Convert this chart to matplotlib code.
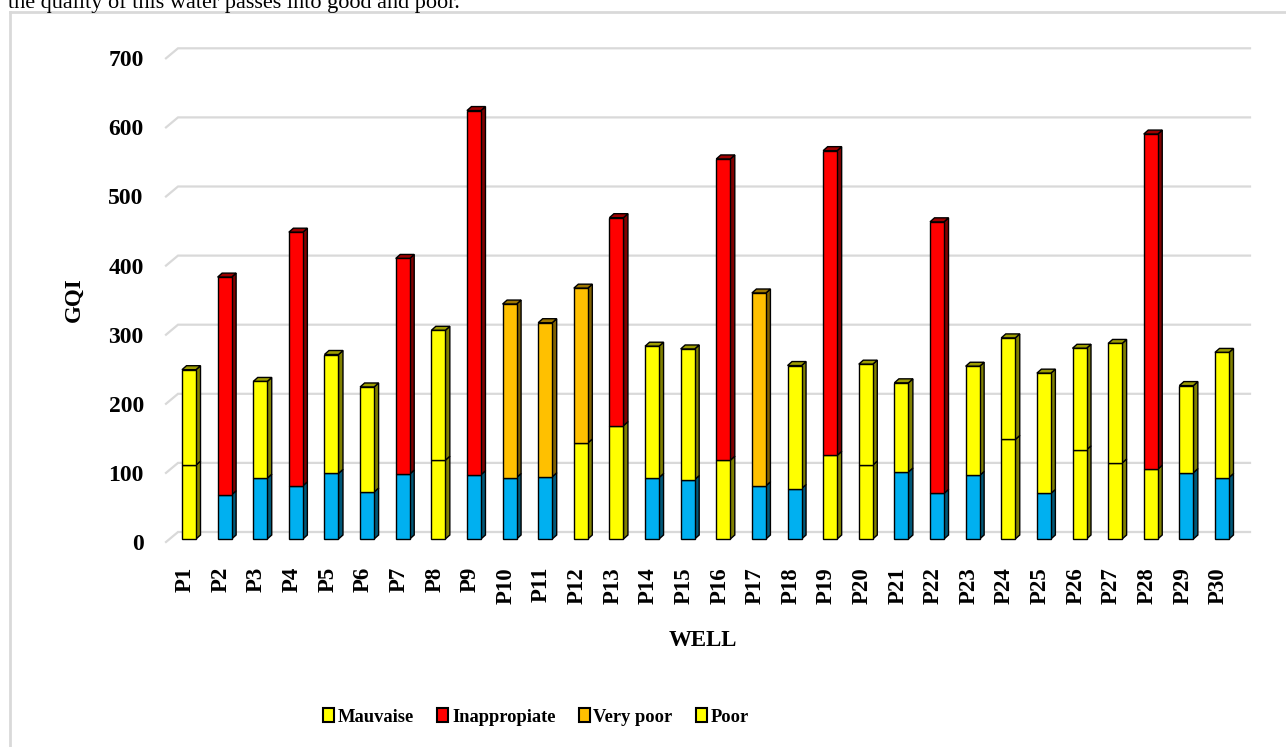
import numpy as np
import matplotlib
matplotlib.use("Agg")
import matplotlib.pyplot as plt
from matplotlib.patches import Rectangle, Polygon, Patch
from matplotlib.lines import Line2D
from matplotlib.colors import to_rgb

# GQI per well, split into a lower and an upper stacked segment
wells = [f"P{i}" for i in range(1, 31)]
lower_gqi = [107, 64, 88, 77, 95, 68, 94, 114, 93, 89, 90, 139, 164, 89, 86,
             114, 77, 73, 121, 107, 97, 66, 92, 144, 66, 129, 110, 101, 96, 89]
upper_gqi = [138, 315, 140, 367, 172, 152, 312, 188, 527, 251, 223, 224, 301, 190, 189,
             436, 279, 178, 441, 146, 129, 393, 158, 147, 174, 147, 173, 485, 126, 181]
lower_class = ["poor", "good", "good", "good", "good", "good", "good", "poor", "good", "good",
               "good", "poor", "poor", "good", "good", "poor", "good", "good", "poor", "poor",
               "good", "good", "good", "poor", "good", "poor", "poor", "poor", "good", "good"]
upper_class = ["mauv", "inap", "mauv", "inap", "mauv", "mauv", "inap", "mauv", "inap", "vpoor",
               "vpoor", "vpoor", "inap", "mauv", "mauv", "inap", "vpoor", "mauv", "inap", "mauv",
               "mauv", "inap", "mauv", "mauv", "mauv", "mauv", "mauv", "inap", "mauv", "mauv"]
yticks = [0, 100, 200, 300, 400, 500, 600, 700]

colors = {"good": "#00B0F0", "poor": "#FFFF00", "mauv": "#FFFF00",
          "inap": "#FF0000", "vpoor": "#FFC000"}
legend_labels = ["Mauvaise", "Inappropiate", "Very poor", "Poor"]
legend_colors = ["#FFFF00", "#FF0000", "#FFC000", "#FFFF00"]

W, H = 1286, 747
serif = ["Liberation Serif", "DejaVu Serif"]

# axes geometry in pixels (front plane of the 3-D box)
ax_l, ax_r, ax_b, ax_t = 166, 1250, 542, 48
px_x = 35.62           # pixels per category
px_y = 0.691           # pixels per GQI unit
x0 = (166 - 185.4) / px_x

fig = plt.figure(figsize=(W / 100, H / 100), dpi=100)
ax = fig.add_axes([ax_l / W, 1 - ax_b / H, (ax_r - ax_l) / W, (ax_b - ax_t) / H])
ax.set_xlim(x0, x0 + (ax_r - ax_l) / px_x)
ax.set_ylim(0, (ax_b - ax_t) / px_y)
for s in ax.spines.values():
    s.set_visible(False)


def dx(p):
    return p / px_x


def dy(p):
    return p / px_y


# back wall gridlines with the short diagonal on the left wall
wall_dx, wall_dy = 12, 10
xmin, xmax = ax.get_xlim()
for v in yticks:
    ax.plot([xmin, xmin + dx(wall_dx), xmax], [v, v + dy(wall_dy), v + dy(wall_dy)],
            color="#d9d9d9", lw=1.6, zorder=0, solid_joinstyle="miter", clip_on=False)


def shade(c, f):
    r, g, b = to_rgb(c)
    return (r * f, g * f, b * f)


# bars sit a little behind the front plane
bx, by = dx(3.6), dy(3)
bw = 14 / px_x
sd_x, sd_y = dx(4.5), dy(4)


def draw_block(x, y0, y1, color, with_top):
    xl = x - bw / 2 + bx
    xr = xl + bw
    b0, b1 = y0 + by, y1 + by
    kw = dict(edgecolor="black", lw=1.0, zorder=3, clip_on=False)
    ax.add_patch(Polygon([(xr, b0), (xr + sd_x, b0 + sd_y), (xr + sd_x, b1 + sd_y), (xr, b1)],
                         facecolor=shade(color, 0.5), **kw))
    if with_top:
        ax.add_patch(Polygon([(xl, b1), (xl + sd_x, b1 + sd_y), (xr + sd_x, b1 + sd_y), (xr, b1)],
                             facecolor=shade(color, 0.62), **kw))
    ax.add_patch(Rectangle((xl, b0), bw, b1 - b0, facecolor=color, **kw))


xs = np.arange(len(wells))
for i in xs:
    lo, up = lower_gqi[i], upper_gqi[i]
    draw_block(i, 0, lo, colors[lower_class[i]], False)
    draw_block(i, lo, lo + up, colors[upper_class[i]], True)

ax.set_yticks(yticks)
ax.set_yticklabels([str(v) for v in yticks], fontfamily=serif, fontweight="bold", fontsize=17)
ax.tick_params(axis="y", length=0, pad=16)
ax.set_xticks(xs)
ax.set_xticklabels(wells, rotation=90, fontfamily=serif, fontweight="bold", fontsize=16.5)
ax.tick_params(axis="x", length=0, pad=18)

fig.text(74 / W, 1 - 300 / H, "GQI", rotation=90, ha="center", va="center",
         fontfamily=serif, fontweight="bold", fontsize=16.5)
fig.text(703 / W, 1 - 640 / H, "WELL", ha="center", va="center",
         fontfamily=serif, fontweight="bold", fontsize=16.5)

handles = [Patch(facecolor=c, edgecolor="black", lw=1.5) for c in legend_colors]
fig.legend(handles, legend_labels, loc="center", bbox_to_anchor=(536 / W, 1 - 717 / H),
           ncol=4, frameon=False, handlelength=0.6, handleheight=0.8, handletextpad=0.2,
           columnspacing=1.25, prop=dict(family=serif, weight="bold", size=13.3))

# frame around the chart area and the caption line cut off above it
fig.add_artist(Line2D([9.5 / W, 9.5 / W], [0, 1 - 12 / H], color="#d9d9d9", lw=2,
                      transform=fig.transFigure))
fig.add_artist(Line2D([9.5 / W, 1], [1 - 12 / H, 1 - 12 / H], color="#d9d9d9", lw=2,
                      transform=fig.transFigure))
fig.text(8 / W, 1 - 8 / H, "the quality of this water passes into good and poor.",
         ha="left", va="baseline", fontfamily=serif, fontsize=16)

fig.savefig("out.png", dpi=100)
